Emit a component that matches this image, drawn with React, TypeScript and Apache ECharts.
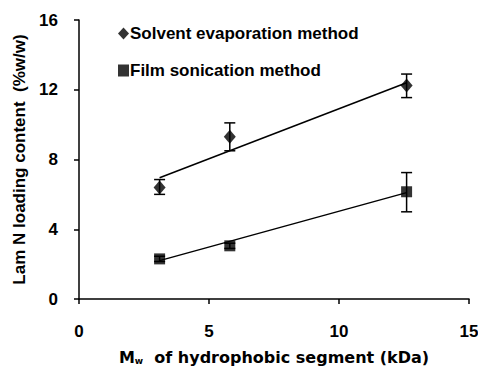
import React, { useEffect, useRef } from "react";
import * as echarts from "echarts";

const solventNames = "Solvent evaporation method";
const filmNames = "Film sonication method";

// [Mw kDa, loading %w/w]
const solventPoints = [
  [3.1, 6.4],
  [5.8, 9.3],
  [12.6, 12.25],
];
const solventErrors = [
  [3.1, 6.0, 6.85],
  [5.8, 8.5, 10.1],
  [12.6, 11.55, 12.9],
];
const solventTrend = [
  [3.1, 6.95],
  [12.6, 12.4],
];

const filmPoints = [
  [3.1, 2.3],
  [5.8, 3.05],
  [12.6, 6.15],
];
const filmErrors = [
  [3.1, 2.15, 2.45],
  [5.8, 2.9, 3.2],
  [12.6, 5.0, 7.25],
];
const filmTrend = [
  [3.1, 2.2],
  [12.6, 6.1],
];

const FONT = "Liberation Sans, Arial, sans-serif";
const WIDE = "DejaVu Sans, sans-serif";

function errorSeries(data: number[][]) {
  return {
    type: "custom",
    silent: true,
    z: 1,
    data,
    renderItem: (params: any, api: any) => {
      const x = api.value(0);
      const top = api.coord([x, api.value(2)]);
      const bot = api.coord([x, api.value(1)]);
      const hw = 5.5;
      const style = { stroke: "#000", lineWidth: 1.5 };
      return {
        type: "group",
        children: [
          { type: "line", shape: { x1: top[0], y1: top[1], x2: bot[0], y2: bot[1] }, style },
          { type: "line", shape: { x1: top[0] - hw, y1: top[1], x2: top[0] + hw, y2: top[1] }, style },
          { type: "line", shape: { x1: bot[0] - hw, y1: bot[1], x2: bot[0] + hw, y2: bot[1] }, style },
        ],
      };
    },
  };
}

export default function App() {
  const ref = useRef<HTMLDivElement>(null);
  useEffect(() => {
    if (!ref.current) return;
    const chart = echarts.init(ref.current, null, { renderer: "svg" });
    chart.setOption({
      animation: false,
      backgroundColor: "#fff",
      grid: { left: 79, right: 9, top: 20, bottom: 67, containLabel: false, outerBoundsMode: "none" },
      legend: {
        orient: "vertical",
        left: 113,
        top: 20,
        padding: 5,
        itemGap: 20,
        itemWidth: 11,
        itemHeight: 12,
        selectedMode: false,
        textStyle: { fontFamily: FONT, fontWeight: "bold", fontSize: 17, color: "#000", padding: [0, 0, 0, -4] },
        data: [
          { name: solventNames, icon: "diamond" },
          { name: filmNames, icon: "rect" },
        ],
      },
      xAxis: {
        type: "value",
        min: 0,
        max: 15,
        interval: 5,
        splitLine: { show: false },
        axisLine: { onZero: false, lineStyle: { color: "#000", width: 1.5 } },
        axisTick: { show: true, inside: false, length: 5, lineStyle: { color: "#000", width: 1.5 } },
        axisLabel: { margin: 24, fontFamily: FONT, fontWeight: "bold", fontSize: 17, color: "#000" },
        name: "{m|M}{s|w}{t|  of hydrophobic segment (kDa)}",
        nameLocation: "middle",
        nameGap: 50,
        nameTextStyle: {
          rich: {
            m: { fontFamily: WIDE, fontWeight: "bold", fontSize: 16, color: "#000" },
            s: { fontFamily: WIDE, fontWeight: "bold", fontSize: 9, color: "#000", verticalAlign: "bottom", padding: [7, 0, 0, 0] },
            t: { fontFamily: WIDE, fontWeight: "bold", fontSize: 16, color: "#000" },
          },
        },
      },
      yAxis: {
        type: "value",
        min: 0,
        max: 16,
        interval: 4,
        splitLine: { show: false },
        axisLine: { onZero: false, lineStyle: { color: "#000", width: 1.5 } },
        axisTick: { show: true, inside: false, length: 5, lineStyle: { color: "#000", width: 1.5 } },
        axisLabel: { margin: 21, fontFamily: FONT, fontWeight: "bold", fontSize: 17, color: "#000" },
        name: "Lam N loading content  (%w/w)",
        nameLocation: "middle",
        nameGap: 49,
        nameTextStyle: { fontFamily: FONT, fontWeight: "bold", fontSize: 17, color: "#000" },
      },
      series: [
        errorSeries(solventErrors),
        errorSeries(filmErrors),
        {
          type: "line",
          data: solventTrend,
          symbol: "none",
          silent: true,
          lineStyle: { color: "#000", width: 1.5 },
          z: 2,
        },
        {
          type: "line",
          data: filmTrend,
          symbol: "none",
          silent: true,
          lineStyle: { color: "#000", width: 1.5 },
          z: 2,
        },
        {
          name: solventNames,
          type: "scatter",
          data: solventPoints,
          symbol: "diamond",
          symbolSize: [12, 14],
          itemStyle: { color: "#000" },
          z: 3,
        },
        {
          name: filmNames,
          type: "scatter",
          data: filmPoints,
          symbol: "rect",
          symbolSize: 11,
          itemStyle: { color: "#000" },
          z: 3,
        },
      ],
    });
    return () => chart.dispose();
  }, []);
  return <div ref={ref} style={{ width: 478, height: 366, position: "absolute", left: 0, top: 0 }} />;
}
